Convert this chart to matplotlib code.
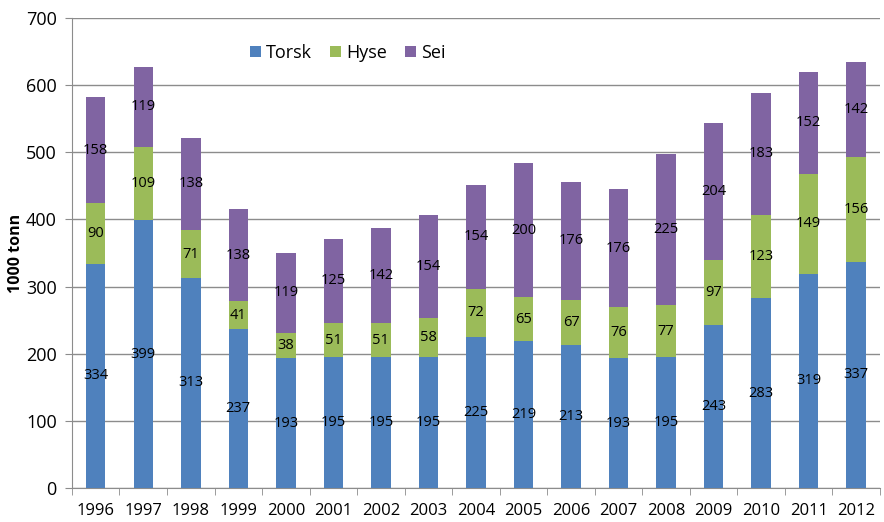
import numpy as np
import matplotlib
matplotlib.use("Agg")
import matplotlib.pyplot as plt

years = ["1996", "1997", "1998", "1999", "2000", "2001", "2002", "2003", "2004",
         "2005", "2006", "2007", "2008", "2009", "2010", "2011", "2012"]
torsk = [334, 399, 313, 237, 193, 195, 195, 195, 225, 219, 213, 193, 195, 243, 283, 319, 337]
hyse = [90, 109, 71, 41, 38, 51, 51, 58, 72, 65, 67, 76, 77, 97, 123, 149, 156]
sei = [158, 119, 138, 138, 119, 125, 142, 154, 154, 200, 176, 176, 225, 204, 183, 152, 142]

plt.rcParams['font.family'] = ['Open Sans', 'DejaVu Sans']

fig = plt.figure(figsize=(8.84, 5.22), dpi=100)
ax = fig.add_axes([0.0814, 0.065, 0.914, 0.9005])

x = np.arange(len(years))
torsk = np.array(torsk)
hyse = np.array(hyse)
sei = np.array(sei)
w = 0.41
b1 = ax.bar(x, torsk, w, color="#4F81BD", label="Torsk", zorder=3)
b2 = ax.bar(x, hyse, w, bottom=torsk, color="#9BBB59", label="Hyse", zorder=3)
b3 = ax.bar(x, sei, w, bottom=torsk + hyse, color="#8064A2", label="Sei", zorder=3)

for vals, bottoms in [(torsk, 0 * torsk), (hyse, torsk), (sei, torsk + hyse)]:
    for xi, v, b in zip(x, vals, bottoms):
        ax.text(xi, b + v / 2, str(v), ha="center", va="center", fontsize=10.5, zorder=4)

ax.set_xlim(-0.5, len(years) - 0.5)
ax.set_ylim(0, 700)
ax.set_yticks(range(0, 701, 100))
ax.yaxis.grid(True, color="#8c8c8c", linewidth=1, zorder=0)
ax.set_xticks(x)
ax.set_xticklabels(years, fontsize=12)
ax.set_xticks(np.arange(-0.5, len(years), 1), minor=True)
ax.tick_params(axis="x", which="major", length=0, pad=11)
ax.tick_params(axis="x", which="minor", length=5, color="#8c8c8c")
ax.tick_params(axis="y", labelsize=13, length=5, color="#8c8c8c", pad=6)
for s in ["top", "right"]:
    ax.spines[s].set_visible(False)
for s in ["left", "bottom"]:
    ax.spines[s].set_color("#8c8c8c")
ax.set_ylabel("1000 tonn", fontsize=11.5, fontweight="bold")
ax.yaxis.set_label_coords(-0.059, 0.5)

ax.legend(loc="upper left", bbox_to_anchor=(0.2, 0.98), ncol=3, frameon=False,
          fontsize=13, handlelength=0.6, handleheight=0.6, columnspacing=1.0,
          handletextpad=0.3)

fig.savefig("out.png", dpi=100)
